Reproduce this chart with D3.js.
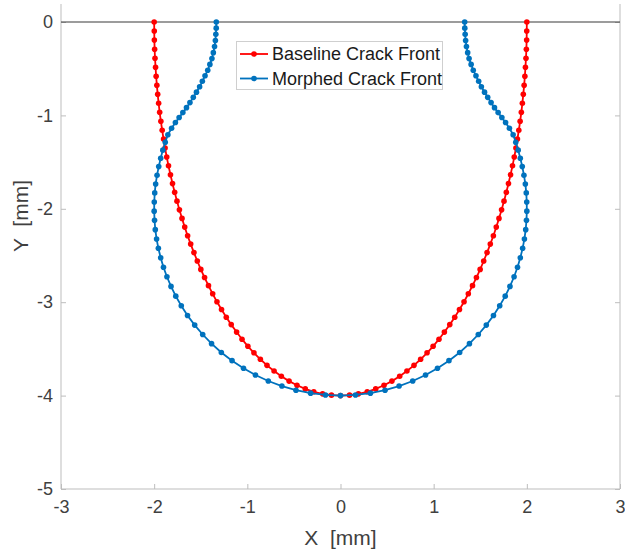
<!DOCTYPE html>
<html>
<head>
<meta charset="utf-8">
<script src="https://cdn.jsdelivr.net/npm/d3@7"></script>
<style>
body { margin: 0; background: #fff; }
svg { font-family: "Liberation Sans", Arial, sans-serif; }
</style>
</head>
<body>
<svg id="chart" width="625" height="550"></svg>
<script>
// tick values
var xTicks = [-3, -2, -1, 0, 1, 2, 3];
var yTicks = [-5, -4, -3, -2, -1, 0];

// baseline crack front (red)
var baselineX = [-2.000, -1.999, -1.998, -1.995, -1.991, -1.985, -1.979, -1.971, -1.962, -1.952,
  -1.941, -1.928, -1.914, -1.899, -1.883, -1.865, -1.846, -1.825, -1.803, -1.780,
  -1.755, -1.729, -1.701, -1.672, -1.641, -1.608, -1.573, -1.537, -1.499, -1.459,
  -1.417, -1.372, -1.326, -1.277, -1.226, -1.173, -1.115, -1.057, -0.994, -0.929,
  -0.860, -0.789, -0.713, -0.635, -0.552, -0.467, -0.378, -0.287, -0.192, -0.097, 0,
  0.097, 0.192, 0.287, 0.378, 0.467, 0.552, 0.635, 0.713, 0.789, 0.860,
  0.929, 0.994, 1.057, 1.115, 1.173, 1.226, 1.277, 1.326, 1.372, 1.417,
  1.459, 1.499, 1.537, 1.573, 1.608, 1.641, 1.672, 1.701, 1.729, 1.755,
  1.780, 1.803, 1.825, 1.846, 1.865, 1.883, 1.899, 1.914, 1.928, 1.941,
  1.952, 1.962, 1.971, 1.979, 1.985, 1.991, 1.995, 1.998, 1.999, 2.000];
var baselineY = [0, -0.097, -0.194, -0.291, -0.388, -0.484, -0.581, -0.678, -0.774, -0.870,
  -0.967, -1.063, -1.159, -1.254, -1.350, -1.446, -1.540, -1.635, -1.730, -1.823,
  -1.918, -2.011, -2.103, -2.196, -2.288, -2.378, -2.469, -2.559, -2.649, -2.736,
  -2.823, -2.910, -2.995, -3.078, -3.161, -3.240, -3.320, -3.396, -3.472, -3.542,
  -3.611, -3.676, -3.737, -3.793, -3.845, -3.889, -3.928, -3.959, -3.981, -3.995, -4.000,
  -3.995, -3.981, -3.959, -3.928, -3.889, -3.845, -3.793, -3.737, -3.676, -3.611,
  -3.542, -3.472, -3.396, -3.320, -3.240, -3.161, -3.078, -2.995, -2.910, -2.823,
  -2.736, -2.649, -2.559, -2.469, -2.378, -2.288, -2.196, -2.103, -2.011, -1.918,
  -1.823, -1.730, -1.635, -1.540, -1.446, -1.350, -1.254, -1.159, -1.063, -0.967,
  -0.870, -0.774, -0.678, -0.581, -0.484, -0.388, -0.291, -0.194, -0.097, 0];

// morphed crack front (blue)
var morphedX = [-1.333, -1.334, -1.338, -1.343, -1.352, -1.365, -1.380, -1.402, -1.425, -1.454,
  -1.483, -1.512, -1.546, -1.580, -1.616, -1.653, -1.692, -1.732, -1.772, -1.813,
  -1.853, -1.881, -1.907, -1.930, -1.951, -1.969, -1.984, -1.994, -1.999, -2.000,
  -1.996, -1.988, -1.974, -1.955, -1.930, -1.900, -1.863, -1.819, -1.768, -1.709,
  -1.642, -1.565, -1.479, -1.384, -1.279, -1.164, -1.041, -0.913, -0.775, -0.629,
  -0.478, -0.321, -0.161, 0,
  0.161, 0.321, 0.478, 0.629, 0.775, 0.913, 1.041, 1.164, 1.279, 1.384,
  1.479, 1.565, 1.642, 1.709, 1.768, 1.819, 1.863, 1.900, 1.930, 1.955,
  1.974, 1.988, 1.996, 2.000, 1.999, 1.994, 1.984, 1.969, 1.951, 1.930,
  1.907, 1.881, 1.853, 1.813, 1.772, 1.732, 1.692, 1.653, 1.616, 1.580,
  1.546, 1.512, 1.483, 1.454, 1.425, 1.402, 1.380, 1.365, 1.352, 1.343,
  1.338, 1.334, 1.333];
var morphedY = [0, -0.066, -0.132, -0.198, -0.263, -0.328, -0.392, -0.454, -0.516, -0.576,
  -0.635, -0.694, -0.751, -0.807, -0.863, -0.917, -0.970, -1.023, -1.076, -1.138,
  -1.207, -1.288, -1.372, -1.459, -1.548, -1.640, -1.734, -1.830, -1.927, -2.025,
  -2.123, -2.223, -2.323, -2.423, -2.524, -2.626, -2.728, -2.831, -2.935, -3.038,
  -3.143, -3.245, -3.346, -3.444, -3.538, -3.626, -3.707, -3.779, -3.844, -3.898,
  -3.942, -3.974, -3.993, -4.000,
  -3.993, -3.974, -3.942, -3.898, -3.844, -3.779, -3.707, -3.626, -3.538, -3.444,
  -3.346, -3.245, -3.143, -3.038, -2.935, -2.831, -2.728, -2.626, -2.524, -2.423,
  -2.323, -2.223, -2.123, -2.025, -1.927, -1.830, -1.734, -1.640, -1.548, -1.459,
  -1.372, -1.288, -1.207, -1.138, -1.076, -1.023, -0.970, -0.917, -0.863, -0.807,
  -0.751, -0.694, -0.635, -0.576, -0.516, -0.454, -0.392, -0.328, -0.263, -0.198,
  -0.132, -0.066, 0];

var seriesNames = ["Baseline Crack Front", "Morphed Crack Front"];
var seriesColors = ["#ff0000", "#0072bd"];

var svg = d3.select("#chart"),
    plotLeft = 61, plotRight = 620, plotTop = 22, plotBottom = 489, frameTop = 4;

var x = d3.scaleLinear().domain([-3, 3]).range([plotLeft, plotRight]);
var y = d3.scaleLinear().domain([-5, 0]).range([plotBottom, plotTop]);

var axisColor = "#bdbdbd", textColor = "#404040";
var tickFmt = function(d) { return String(d); };

// axes frame
var frame = svg.append("g").attr("stroke", axisColor).attr("stroke-width", 1);
frame.append("line").attr("x1", plotLeft).attr("x2", plotLeft).attr("y1", frameTop).attr("y2", plotBottom);
frame.append("line").attr("x1", plotRight).attr("x2", plotRight).attr("y1", frameTop).attr("y2", plotBottom);
frame.append("line").attr("x1", plotLeft).attr("x2", plotRight).attr("y1", plotBottom).attr("y2", plotBottom);

function styleAxis(g){
    g.select(".domain").remove();
    g.selectAll(".tick line").attr("stroke", axisColor);
    g.selectAll(".tick text").attr("fill", textColor).style("font-size", "18px");
}

svg.append("g")
    .attr("transform", "translate(0," + plotBottom + ")")
    .call(d3.axisBottom(x).tickValues(xTicks).tickSize(-5).tickPadding(11).tickFormat(tickFmt))
    .call(styleAxis);

svg.append("g")
    .attr("transform", "translate(" + plotLeft + ",0)")
    .call(d3.axisLeft(y).tickValues(yTicks).tickSize(-5).tickPadding(8).tickFormat(tickFmt))
    .call(styleAxis);

svg.append("g")
    .attr("transform", "translate(" + plotRight + ",0)")
    .call(d3.axisRight(y).tickValues(yTicks).tickSize(-5).tickFormat(""))
    .call(styleAxis);

// axis labels
svg.append("text")
    .attr("x", (plotLeft + plotRight) / 2).attr("y", 545)
    .attr("text-anchor", "middle")
    .attr("fill", textColor)
    .style("font-size", "21px")
    .style("white-space", "pre")
    .text("X  [mm]");

svg.append("text")
    .attr("transform", "translate(28,216) rotate(-90)")
    .attr("text-anchor", "middle")
    .attr("fill", textColor)
    .style("font-size", "21px")
    .style("white-space", "pre")
    .text("Y  [mm]");

// free surface line at y = 0
svg.append("line")
    .attr("x1", x(-3)).attr("x2", x(3))
    .attr("y1", y(0)).attr("y2", y(0))
    .attr("stroke", "#3a3a3a").attr("stroke-width", 1.2);

var line = d3.line()
    .x(function(d) { return x(d[0]); })
    .y(function(d) { return y(d[1]); });

function drawFront(xs, ys, color){
    var pts = xs.map(function(v, i) { return [v, ys[i]]; });
    var g = svg.append("g");
    g.append("path")
        .datum(pts)
        .attr("d", line)
        .attr("fill", "none")
        .attr("stroke", color)
        .attr("stroke-width", 1.8);
    g.selectAll("circle")
        .data(pts)
        .enter().append("circle")
        .attr("cx", function(d) { return x(d[0]); })
        .attr("cy", function(d) { return y(d[1]); })
        .attr("r", 2.8)
        .attr("fill", color);
}

drawFront(baselineX, baselineY, seriesColors[0]);
drawFront(morphedX, morphedY, seriesColors[1]);

// legend
var legend = svg.append("g");
legend.append("rect")
    .attr("x", 236.5).attr("y", 41.5)
    .attr("width", 206).attr("height", 48)
    .attr("fill", "#fff")
    .attr("stroke", "#cfcfcf");

seriesNames.forEach(function(name, i){
    var ly = 54 + i * 24.5;
    legend.append("line")
        .attr("x1", 240).attr("x2", 268)
        .attr("y1", ly).attr("y2", ly)
        .attr("stroke", seriesColors[i]).attr("stroke-width", 1.8);
    legend.append("circle")
        .attr("cx", 254).attr("cy", ly).attr("r", 2.8)
        .attr("fill", seriesColors[i]);
    legend.append("text")
        .attr("x", 272).attr("y", ly)
        .attr("dy", "0.35em")
        .attr("fill", "#1a1a1a")
        .style("font-size", "18px")
        .text(name);
});
</script>
</body>
</html>
